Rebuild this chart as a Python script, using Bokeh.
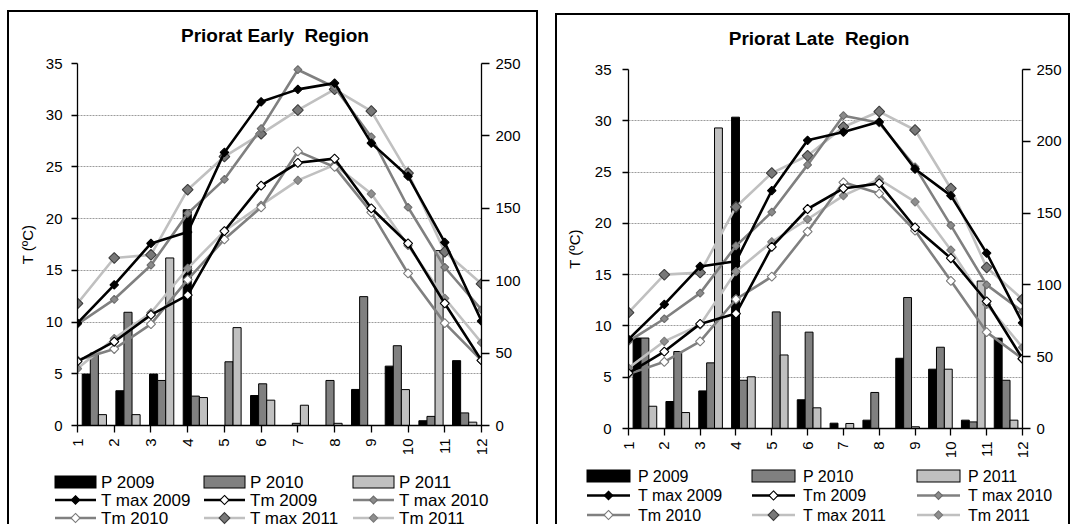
from math import pi

from bokeh.embed import file_html
from bokeh.layouts import column, row
from bokeh.models import (Div, FixedTicker, LinearAxis, Range1d,
                          SingleIntervalTicker)
from bokeh.plotting import figure
from bokeh.resources import INLINE
from bokeh.transform import dodge

FONT = "Liberation Sans"

months = list(range(1, 13))
month_labels = [str(m) for m in months]

# ---- Priorat Early region ----
early_p2009 = [35.5, 24.0, 35.5, 149.0, 0.0, 20.7, 0.0, 0.0, 24.9, 41.0, 3.3, 44.8]
early_p2010 = [50.0, 78.2, 31.1, 20.3, 44.0, 28.8, 1.5, 31.1, 89.0, 55.1, 6.3, 8.7]
early_p2011 = [7.5, 7.5, 115.7, 19.3, 67.6, 17.5, 14.0, 1.5, 0.0, 24.8, 120.8, 2.3]
early_tmax2009 = [9.9, 13.6, 17.6, 18.7, 26.4, 31.3, 32.5, 33.1, 27.3, 24.1, 17.7, 10.1]
early_tm2009 = [6.2, 8.1, 10.7, 12.6, 18.8, 23.2, 25.4, 25.8, 21.0, 17.6, 11.8, 6.3]
early_tmax2010 = [9.8, 12.2, 15.5, 20.5, 23.8, 28.7, 34.4, 32.7, 27.9, 21.1, 15.3, 11.2]
early_tm2010 = [6.3, 7.4, 9.8, 14.1, 18.0, 21.1, 26.5, 25.0, 20.6, 14.7, 9.9, 6.3]
early_tmax2011 = [11.8, 16.2, 16.5, 22.8, 26.0, 28.2, 30.5, 32.5, 30.4, 24.4, 16.8, 13.7]
early_tm2011 = [5.5, 8.4, 10.9, 15.2, 18.8, 21.3, 23.7, 25.2, 22.4, 17.4, 12.3, 8.0]

# ---- Priorat Late region ----
late_p2009 = [63.0, 18.8, 26.2, 216.8, 0.0, 20.0, 3.7, 5.8, 48.9, 41.3, 5.8, 62.9]
late_p2010 = [63.0, 53.6, 45.7, 33.6, 81.2, 67.1, 0.0, 25.1, 91.2, 56.6, 4.6, 33.6]
late_p2011 = [15.5, 11.1, 209.3, 36.0, 51.2, 14.4, 3.5, 0.0, 1.2, 41.3, 102.7, 5.8]
late_tmax2009 = [8.7, 12.1, 15.8, 16.3, 23.2, 28.1, 28.9, 29.9, 25.3, 22.7, 17.1, 10.3]
late_tm2009 = [5.4, 7.5, 10.2, 11.2, 17.7, 21.4, 23.4, 23.9, 19.6, 16.6, 12.4, 6.8]
late_tmax2010 = [8.5, 10.7, 13.2, 17.8, 21.1, 25.7, 30.5, 29.8, 25.5, 19.8, 14.0, 11.4]
late_tm2010 = [5.3, 6.5, 8.5, 12.6, 14.8, 19.2, 24.0, 22.9, 19.3, 14.4, 9.4, 6.8]
late_tmax2011 = [11.3, 15.0, 15.2, 21.6, 24.9, 26.6, 29.4, 30.9, 29.1, 23.4, 15.7, 12.6]
late_tm2011 = [5.9, 8.5, 10.1, 15.3, 18.2, 20.4, 22.7, 24.3, 22.1, 17.4, 12.1, 7.9]

bar_labels = ["P 2009", "P 2010", "P 2011"]
line_labels = ["T max 2009", "Tm 2009", "T max 2010", "Tm 2010", "T max 2011", "Tm 2011"]

BAR_COLORS = ["#000000", "#808080", "#c0c0c0"]
# (line colour, marker fill, marker outline, marker size)
LINE_STYLES = {
    "T max 2009": ("#000000", "#000000", "#000000", 6.0),
    "Tm 2009": ("#000000", "#ffffff", "#000000", 6.4),
    "T max 2010": ("#808080", "#8a8a8a", "#6c6c6c", 5.6),
    "Tm 2010": ("#808080", "#ffffff", "#7a7a7a", 6.4),
    "T max 2011": ("#c0c0c0", "#787878", "#3c3c3c", 7.6),
    "Tm 2011": ("#c0c0c0", "#8e8e8e", "#7a7a7a", 5.9),
}
DRAW_ORDER = ["Tm 2011", "T max 2011", "Tm 2010", "T max 2010", "Tm 2009", "T max 2009"]


def build_chart(rain, temps, g):
    p = figure(
        width=g["w"], height=g["h"], output_backend="svg", toolbar_location=None,
        x_range=Range1d(1, 12), y_range=Range1d(0, 35), title=None,
        min_border_left=g["bl"], min_border_right=g["br"],
        min_border_top=g["bt"], min_border_bottom=g["bb"],
        background_fill_color="white", border_fill_color="white",
    )
    p.outline_line_color = None
    p.extra_y_ranges = {"rain": Range1d(0, 250)}

    # temperature axis (left)
    ya = p.yaxis[0]
    ya.ticker = SingleIntervalTicker(interval=5)
    ya.axis_label = "T (ºC)"
    ya.axis_label_text_font = FONT
    ya.axis_label_text_font_size = "15px"
    ya.axis_label_text_font_style = "normal"
    ya.axis_label_text_color = "black"
    ya.axis_label_standoff = g["als"]
    ya.major_label_text_font = FONT
    ya.major_label_text_font_size = "15px"
    ya.major_label_text_color = "black"
    ya.major_label_standoff = g["ls"]
    ya.major_tick_out = 6
    ya.major_tick_in = 0
    ya.minor_tick_line_color = None
    ya.axis_line_width = 1.3
    ya.major_tick_line_width = 1.3

    # precipitation axis (right)
    ra = LinearAxis(y_range_name="rain", ticker=SingleIntervalTicker(interval=50))
    ra.major_label_text_font = FONT
    ra.major_label_text_font_size = "15px"
    ra.major_label_text_color = "black"
    ra.major_label_standoff = 6
    ra.major_tick_out = 8
    ra.major_tick_in = 0
    ra.minor_tick_line_color = None
    ra.axis_line_width = 1.3
    ra.major_tick_line_width = 1.3
    p.add_layout(ra, "right")

    # month axis
    xa = p.xaxis[0]
    xa.ticker = FixedTicker(ticks=months)
    xa.major_label_overrides = {m: lab for m, lab in zip(months, month_labels)}
    xa.major_label_orientation = pi / 2
    xa.major_label_text_font = FONT
    xa.major_label_text_font_size = "15px"
    xa.major_label_text_color = "black"
    xa.major_label_standoff = 6
    xa.major_tick_out = 7
    xa.major_tick_in = 0
    xa.minor_tick_line_color = None
    xa.axis_line_width = 1.3
    xa.major_tick_line_width = 1.3

    p.xgrid.visible = False
    p.ygrid.ticker = SingleIntervalTicker(interval=5)
    p.ygrid.grid_line_color = "#9c9c9c"
    p.ygrid.grid_line_dash = "2 1"
    p.ygrid.grid_line_width = 1

    # monthly precipitation: three bars per month slot
    slot = [1 + (m - 0.5) * 11 / 12 for m in months]
    bw = 0.22
    src = {"slot": slot, "p0": rain[0], "p1": rain[1], "p2": rain[2]}
    for k, off in enumerate([-bw, 0.0, bw]):
        p.vbar(x=dodge("slot", off, range=p.x_range), top=f"p{k}", bottom=0,
               width=bw, source=src, y_range_name="rain",
               fill_color=BAR_COLORS[k], line_color="#000000", line_width=1)

    # temperature series, lightest first so the black lines sit on top
    for name in DRAW_ORDER:
        lc, mf, ml, ms = LINE_STYLES[name]
        vals = temps[name]
        p.line(months, vals, line_color=lc, line_width=2.6)
        p.scatter(months, vals, marker="square", angle=pi / 4, size=ms,
                  fill_color=mf, line_color=ml, line_width=1.1)
    return p


def svg_div(body, w, h):
    svg = (f'<svg xmlns="http://www.w3.org/2000/svg" width="{w}" height="{h}" '
           f'style="display:block" font-family="{FONT}">{body}</svg>')
    return Div(text=svg, width=w, height=h, margin=0, styles={"padding": "0"})


def build_title(title, g):
    body = (f'<text x="{g["tx"]}" y="{g["ty"]}" text-anchor="middle" '
            f'dominant-baseline="central" font-size="19" font-weight="bold" '
            f'fill="#000000" style="white-space:pre">{title}</text>')
    return svg_div(body, g["w"], g["th"])


def build_key(g):
    """Three-column key: bar swatches, then line + marker entries."""
    parts = []
    gw = g["gw"]
    for i, lab in enumerate(bar_labels + line_labels):
        r, c = divmod(i, 3)
        x0 = g["kx"][c]
        y0 = g["ky"][r]
        if i < 3:
            parts.append(f'<rect x="{x0}" y="{y0 - 6}" width="{gw}" height="12" '
                         f'fill="{BAR_COLORS[i]}" stroke="#000000" stroke-width="1"/>')
        else:
            lc, mf, ml, ms = LINE_STYLES[lab]
            half = ms * 0.7071
            cx = x0 + gw / 2
            parts.append(f'<line x1="{x0}" y1="{y0}" x2="{x0 + gw}" y2="{y0}" '
                         f'stroke="{lc}" stroke-width="2.6"/>')
            parts.append(f'<polygon points="{cx},{y0 - half} {cx + half},{y0} '
                         f'{cx},{y0 + half} {cx - half},{y0}" fill="{mf}" '
                         f'stroke="{ml}" stroke-width="1.1"/>')
        parts.append(f'<text x="{x0 + g["tdx"]}" y="{y0}" dominant-baseline="central" '
                     f'font-size="{g["kfs"]}" fill="#000000">{lab}</text>')
    return svg_div("".join(parts), g["w"], g["kh"])


def build_panel(title, rain, temps, g):
    col = column(build_title(title, g), build_chart(rain, temps, g), build_key(g),
                 spacing=0)
    col.margin = g["margin"]
    col.styles = {"box-shadow": "-2px -2px 0 0 #000000, 2px -2px 0 0 #000000"}
    return col


early_geo = dict(w=527, th=39, tx=266, ty=23,
                 h=407, bl=68, br=55, bt=12, bb=33, margin=(12, 0, 0, 9),
                 als=7, ls=9, kh=68, gw=41, tdx=46,
                 kx=[46, 195, 344], ky=[24, 42, 60], kfs=17)
late_geo = dict(w=511, th=39, tx=262, ty=23,
                h=407, bl=71, br=46, bt=15, bb=33, margin=(15, 0, 0, 21),
                als=9, ls=11, kh=65, gw=43, tdx=51,
                kx=[30, 195, 360], ky=[15, 34.5, 54], kfs=16)

early = build_panel(
    "Priorat Early  Region",
    [early_p2009, early_p2010, early_p2011],
    {"T max 2009": early_tmax2009, "Tm 2009": early_tm2009,
     "T max 2010": early_tmax2010, "Tm 2010": early_tm2010,
     "T max 2011": early_tmax2011, "Tm 2011": early_tm2011},
    early_geo,
)
late = build_panel(
    "Priorat Late  Region",
    [late_p2009, late_p2010, late_p2011],
    {"T max 2009": late_tmax2009, "Tm 2009": late_tm2009,
     "T max 2010": late_tmax2010, "Tm 2010": late_tm2010,
     "T max 2011": late_tmax2011, "Tm 2011": late_tm2011},
    late_geo,
)

layout = row(early, late)
open("out.html", "w").write(file_html(layout, INLINE))
